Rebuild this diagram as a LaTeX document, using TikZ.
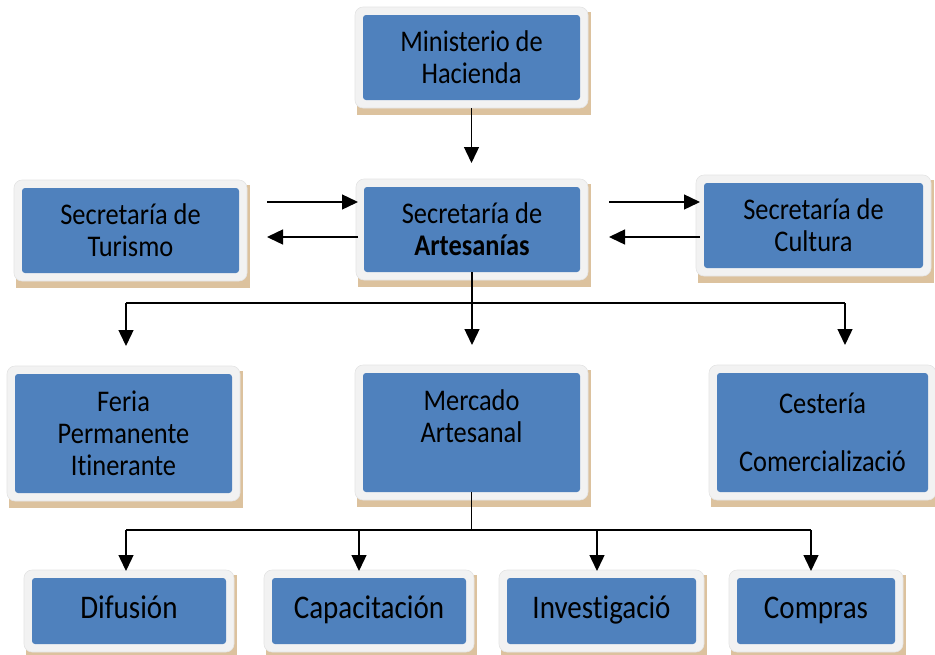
\documentclass[tikz,border=0pt]{standalone}
\usepackage{fontspec}
\setmainfont{Carlito}[FakeStretch=0.88, Ligatures=NoCommon]
\usetikzlibrary{arrows.meta,backgrounds}
\definecolor{boxblue}{HTML}{4F81BD}
\definecolor{framegray}{HTML}{F2F2F2}
\definecolor{frameline}{HTML}{E4E4E4}
\definecolor{shadowtan}{HTML}{DCC29E}
\begin{document}
\begin{tikzpicture}[x=1pt,y=-1pt,
  box/.style={fill=boxblue, rounded corners=3pt, inner sep=0pt, outer sep=0pt,
    align=center, text=black, font=\fontsize{30}{32}\selectfont},
  lowbox/.style={box, font=\fontsize{33}{35}\selectfont, text height=24pt, text depth=10pt},
  arr/.style={line width=1.4pt, -{Triangle[length=16pt,width=15pt]}},
  ln/.style={line width=1.4pt}]
\useasboundingbox (0,0) rectangle (935,654);

% boxes
\node[box, minimum width=217pt, minimum height=85pt] (min) at (471.5,57.5) {Ministerio de\\Hacienda};
\node[box, minimum width=217pt, minimum height=85pt] (tur) at (130.5,230.5) {Secretaría de\\Turismo};
\node[box, minimum width=216pt, minimum height=85pt] (art) at (472,229.5) {Secretaría de\\\textbf{Artesanías}};
\node[box, minimum width=219pt, minimum height=85pt] (cul) at (813.5,225.5) {Secretaría de\\Cultura};
\node[box, minimum width=217pt, minimum height=119pt] (fer) at (123.5,433.5) {Feria\\Permanente\\Itinerante};
\node[box, minimum width=217pt, minimum height=119pt] (mer) at (471.5,432.5) {Mercado\\Artesanal\\~};
\node[box, minimum width=211pt, minimum height=119pt] (ces) at (822.5,432.5) {Cestería\\[26pt]Comercializació};
\node[lowbox, minimum width=194pt, minimum height=66pt] (dif) at (129,611) {Difusión};
\node[lowbox, minimum width=194pt, minimum height=66pt] (cap) at (369,611) {Capacitación};
\node[lowbox, minimum width=189pt, minimum height=66pt] (inv) at (601.5,611) {Investigació};
\node[lowbox, minimum width=158pt, minimum height=66pt] (com) at (816,611) {Compras};

\begin{pgfonlayer}{background}
\foreach \n in {min,tur,art,cul,fer,mer,ces,dif,cap,inv,com}{
  \fill[shadowtan] ([shift={(-6,-3)}]\n.north west) rectangle ([shift={(11,15)}]\n.south east);
  \fill[framegray, draw=frameline, line width=0.6pt, rounded corners=8pt]
    ([shift={(-8,-8)}]\n.north west) rectangle ([shift={(8,8)}]\n.south east);
}
\end{pgfonlayer}

% helper coordinates
\coordinate (yA) at (0,202);
\coordinate (yB) at (0,237);
\coordinate (bL) at (126,303);
\coordinate (bR) at (845,303);
\coordinate (cL) at (126,530);
\coordinate (c2) at (359,530);
\coordinate (c3) at (597,530);
\coordinate (cR) at (811,530);

% connectors
\draw[arr, shorten <=8pt, shorten >=24pt] (min.south) -- (min.south |- art.north);

\draw[arr, shorten <=28pt, shorten >=6pt] (tur.east |- yA) -- (art.west |- yA);
\draw[arr, shorten <=6pt, shorten >=28pt] (art.west |- yB) -- (tur.east |- yB);
\draw[arr, shorten <=29pt, shorten >=4pt] (art.east |- yA) -- (cul.west |- yA);
\draw[arr, shorten <=4pt, shorten >=29pt] (cul.west |- yB) -- (art.east |- yB);

\draw[ln] (bL) -- (bR);
\draw[arr, shorten >=28pt] (art.south) -- (art.south |- mer.north);
\draw[arr, shorten >=28pt] (bL) -- (bL |- fer.north);
\draw[arr, shorten >=28pt] (bR) -- (bR |- ces.north);

\draw[ln] (mer.south) -- (mer.south |- cL);
\draw[ln] (cL) -- (cR);
\draw[arr, shorten >=7pt] (cL) -- (cL |- dif.north);
\draw[arr, shorten >=7pt] (c2) -- (c2 |- cap.north);
\draw[arr, shorten >=7pt] (c3) -- (c3 |- inv.north);
\draw[arr, shorten >=7pt] (cR) -- (cR |- com.north);
\end{tikzpicture}
\end{document}
